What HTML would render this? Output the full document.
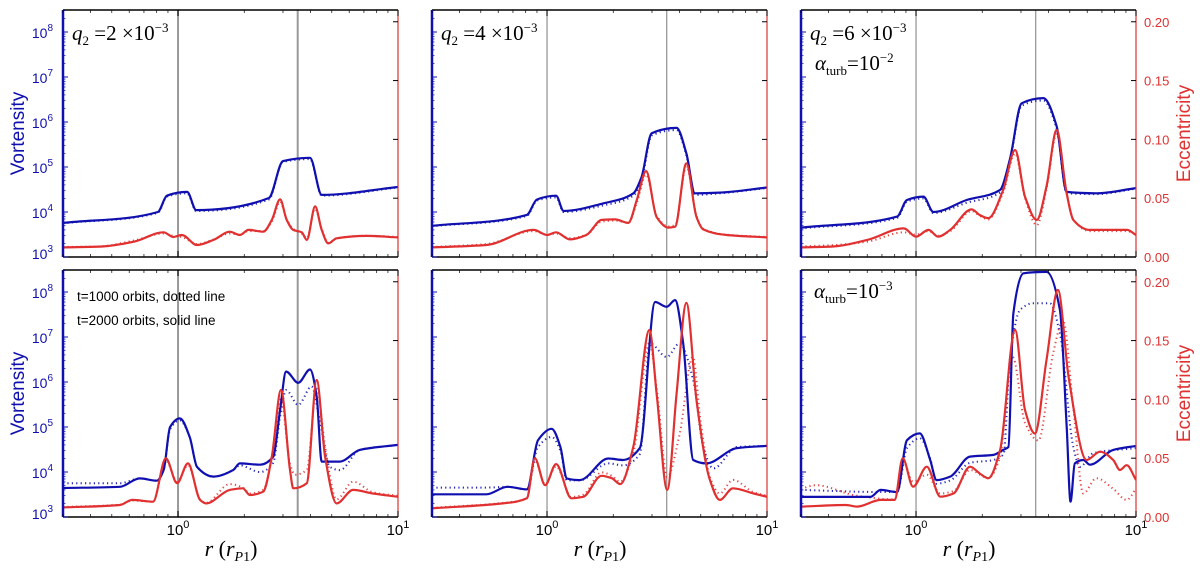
<!DOCTYPE html>
<html><head><meta charset="utf-8"><style>
body{margin:0;background:#fff;}
svg{display:block;font-family:"Liberation Sans",sans-serif;}
.ser{font-family:"Liberation Serif",serif;}
</style></head><body>
<svg id="fig" width="1200" height="577" viewBox="0 0 1200 577" xmlns="http://www.w3.org/2000/svg">
<rect width="1200" height="577" fill="#fff"/>
</svg>
<script>
// ---- data: [r, value] pairs ----
// Panel A (q2=2e-3, top)
const aVortSolid=[[0.3,5.7e3],[0.81,1e4],[0.89,2.3e4],[1.1,2.8e4],[1.21,1.1e4],[2.59,2.05e4],[3.0,1.35e5],[3.98,1.6e5],[4.5,2.4e4],[10,3.6e4]];
const aVortDot=[[0.3,5.6e3],[0.81,9.6e3],[0.89,2.2e4],[1.1,2.6e4],[1.21,1.05e4],[2.59,1.9e4],[3.0,1.3e5],[3.98,1.5e5],[4.5,2.3e4],[10,3.5e4]];
const aEccSolid=[[0.3,0.0082],[0.44,0.0088],[0.63,0.013],[0.86,0.021],[0.95,0.017],[1.04,0.0187],[1.22,0.0102],[1.45,0.0145],[1.72,0.0215],[1.91,0.0187],[2.09,0.023],[2.44,0.0215],[2.67,0.0315],[2.91,0.049],[3.12,0.0315],[3.34,0.023],[3.65,0.021],[3.85,0.0145],[4.2,0.043],[4.5,0.023],[4.82,0.0116],[5.26,0.0159],[7.2,0.0179],[10,0.0167]];
const aEccDot=[[0.3,0.0085],[0.44,0.009],[0.63,0.014],[0.86,0.02],[0.95,0.018],[1.04,0.017],[1.22,0.011],[1.45,0.015],[1.72,0.02],[1.91,0.019],[2.09,0.022],[2.44,0.022],[2.67,0.03],[2.91,0.047],[3.12,0.032],[3.34,0.024],[3.65,0.02],[3.85,0.016],[4.2,0.041],[4.5,0.024],[4.82,0.012],[5.26,0.016],[7.2,0.018],[10,0.017]];
// Panel B (q2=2e-3, bottom)
const bVortSolid=[[0.3,4.4e3],[0.545,4.7e3],[0.67,7.2e3],[0.8,6.4e3],[0.86,1.1e4],[0.92,1e5],[1.02,1.55e5],[1.13,6e4],[1.22,1.3e4],[1.45,7.9e3],[1.78,1.1e4],[1.91,1.55e4],[2.36,1.45e4],[2.71,2.2e4],[2.91,2.4e5],[3.1,1.7e6],[3.52,9.6e5],[3.98,1.9e6],[4.27,4.7e5],[4.5,1.7e4],[5.44,1.7e4],[6.7,3.1e4],[10,4e4]];
const bVortDot=[[0.3,5.6e3],[0.545,5.6e3],[0.67,7.2e3],[0.8,6.4e3],[0.86,1.1e4],[0.92,9e4],[1.02,1.4e5],[1.13,6e4],[1.22,1.3e4],[1.45,7.9e3],[1.78,1.1e4],[1.91,1.4e4],[2.36,1e4],[2.71,1.6e4],[2.91,1.7e5],[3.1,6.6e5],[3.52,3.1e5],[4.05,8e5],[4.4,1.45e5],[4.9,1.3e4],[5.44,1.1e4],[6.7,3.1e4],[10,4e4]];
const bEccSolid=[[0.3,0.0082],[0.545,0.0102],[0.62,0.0145],[0.77,0.013],[0.88,0.05],[0.99,0.0287],[1.11,0.0456],[1.26,0.0145],[1.34,0.0116],[1.72,0.023],[1.97,0.0244],[2.12,0.0187],[2.44,0.0215],[2.67,0.0513],[2.94,0.108],[3.23,0.04],[3.34,0.0244],[3.85,0.0287],[4.27,0.1165],[4.66,0.0513],[5.26,0.0116],[6.25,0.023],[7.7,0.02],[10,0.0172]];
const bEccDot=[[0.3,0.0085],[0.545,0.0105],[0.62,0.014],[0.77,0.013],[0.88,0.048],[0.99,0.03],[1.11,0.044],[1.26,0.015],[1.34,0.012],[1.72,0.028],[1.97,0.025],[2.12,0.02],[2.44,0.023],[2.67,0.05],[2.94,0.1],[3.23,0.045],[3.4,0.036],[3.85,0.04],[4.27,0.11],[4.66,0.06],[5.26,0.015],[6.25,0.03],[7.7,0.021],[10,0.018]];
// Panel C (q2=4e-3, top)
const cVortSolid=[[0.3,4.9e3],[0.81,8.6e3],[0.9,1.9e4],[1.1,2.3e4],[1.19,1.05e4],[1.8,1.55e4],[2.47,2.6e4],[2.69,6e4],[2.99,5.6e5],[3.88,7.4e5],[4.3,2e5],[4.7,2.6e4],[6.1,2.7e4],[10,3.5e4]];
const cVortDot=[[0.3,4.8e3],[0.81,8.2e3],[0.9,1.8e4],[1.1,2.1e4],[1.19,1e4],[1.8,1.4e4],[2.47,2.3e4],[2.69,5e4],[2.99,5e5],[3.88,6.6e5],[4.3,1.8e5],[4.7,2.4e4],[6.1,2.6e4],[10,3.4e4]];
const cEccSolid=[[0.3,0.0082],[0.53,0.0102],[0.87,0.023],[1.0,0.0187],[1.1,0.021],[1.27,0.015],[1.51,0.0187],[1.77,0.0315],[2.04,0.032],[2.34,0.029],[2.56,0.0485],[2.82,0.073],[3.15,0.034],[3.56,0.025],[3.82,0.0258],[4.3,0.0796],[4.78,0.034],[5.13,0.0235],[6.55,0.0187],[10,0.0167]];
const cEccDot=[[0.3,0.0085],[0.53,0.011],[0.87,0.022],[1.0,0.019],[1.1,0.02],[1.27,0.016],[1.51,0.019],[1.77,0.03],[2.04,0.031],[2.34,0.029],[2.56,0.046],[2.82,0.07],[3.15,0.035],[3.56,0.026],[3.82,0.027],[4.3,0.077],[4.78,0.035],[5.13,0.024],[6.55,0.019],[10,0.017]];
// Panel D (q2=4e-3, bottom)
const dVortSolid=[[0.3,3.2e3],[0.53,3.2e3],[0.66,4.7e3],[0.81,4.1e3],[0.91,5.1e4],[1.05,9.1e4],[1.15,3.6e4],[1.23,7.2e3],[1.41,6.6e3],[1.9,2e4],[2.22,1.85e4],[2.64,3.4e4],[3.1,6e7],[3.5,4.7e7],[3.82,6.6e7],[4.16,7.2e6],[4.62,1.85e4],[5.3,1.55e4],[7.3,3.4e4],[10,3.8e4]];
const dVortDot=[[0.3,4.5e3],[0.53,4.5e3],[0.66,4.7e3],[0.81,4.1e3],[0.91,3.6e4],[1.05,6e4],[1.15,3e4],[1.23,6.5e3],[1.41,6.5e3],[1.9,1.55e4],[2.22,1.4e4],[2.64,2.5e4],[2.94,7.2e6],[3.5,3.6e6],[4.0,7.2e6],[4.62,1.1e6],[5.13,3.6e4],[5.7,1.2e4],[7.3,3.6e4],[10,3.8e4]];
const dEccSolid=[[0.3,0.0074],[0.63,0.0116],[0.81,0.0159],[0.88,0.05],[0.98,0.027],[1.1,0.045],[1.29,0.0159],[1.46,0.0172],[1.77,0.035],[1.97,0.033],[2.15,0.028],[2.47,0.06],[2.92,0.159],[3.15,0.105],[3.52,0.023],[3.88,0.105],[4.3,0.182],[4.78,0.0995],[5.5,0.0315],[6.1,0.0145],[7.0,0.0244],[8.7,0.02],[10,0.0172]];
const dEccDot=[[0.3,0.0078],[0.63,0.012],[0.81,0.016],[0.88,0.048],[0.98,0.028],[1.1,0.043],[1.29,0.017],[1.46,0.019],[1.77,0.038],[1.97,0.035],[2.15,0.03],[2.47,0.055],[2.92,0.148],[3.15,0.11],[3.52,0.034],[4.0,0.07],[4.6,0.136],[5.0,0.08],[5.5,0.034],[6.1,0.02],[7.0,0.0315],[8.7,0.021],[10,0.018]];
// Panel E (q2=6e-3, alpha=1e-2, top)
const eVortSolid=[[0.3,4.5e3],[0.82,7.9e3],[0.91,1.85e4],[1.08,2.2e4],[1.2,1e4],[1.7,1.85e4],[2.41,3.1e4],[2.67,1.45e5],[3.02,2.6e6],[3.79,3.4e6],[4.36,8e5],[4.84,2.8e4],[6.62,2.6e4],[10,3.4e4]];
const eVortDot=[[0.3,4.3e3],[0.82,7.4e3],[0.91,1.7e4],[1.08,2e4],[1.2,9.5e3],[1.7,1.6e4],[2.41,2.7e4],[2.67,1.3e5],[3.02,2.3e6],[3.79,3e6],[4.36,7e5],[4.84,2.6e4],[6.62,2.5e4],[10,3.3e4]];
const eEccSolid=[[0.3,0.0082],[0.41,0.0088],[0.6,0.0145],[0.88,0.0243],[1.0,0.0173],[1.14,0.023],[1.26,0.0173],[1.43,0.023],[1.79,0.0405],[1.95,0.0357],[2.13,0.033],[2.49,0.057],[2.82,0.091],[3.13,0.0513],[3.54,0.0315],[3.92,0.06],[4.36,0.108],[4.84,0.054],[5.19,0.0315],[6.17,0.023],[9.1,0.023],[10,0.0187]];
const eEccDot=[[0.3,0.009],[0.41,0.01],[0.6,0.013],[0.88,0.021],[1.0,0.019],[1.14,0.022],[1.26,0.018],[1.43,0.022],[1.79,0.039],[1.95,0.035],[2.13,0.032],[2.49,0.055],[2.82,0.088],[3.13,0.05],[3.54,0.027],[3.92,0.058],[4.36,0.105],[4.84,0.055],[5.19,0.032],[6.17,0.022],[9.1,0.022],[10,0.019]];
// Panel F (alpha=1e-3, bottom)
const fVortSolid=[[0.3,2.8e3],[0.62,2.8e3],[0.69,4e3],[0.82,3.6e3],[0.91,5.1e4],[1.04,7.2e4],[1.16,1.85e4],[1.24,6.6e3],[1.43,7.9e3],[1.76,2.2e4],[2.25,2.4e4],[2.49,3.1e4],[2.63,3.6e4],[2.77,3.4e7],[3.08,2.6e8],[3.92,2.8e8],[4.51,4e7],[4.84,1e5],[5.04,2.2e3],[5.27,1.55e4],[5.76,1.85e4],[6.17,1.45e4],[7.88,3.1e4],[10,3.8e4]];
const fVortDot=[[0.3,4e3],[0.69,3.6e3],[0.82,3.6e3],[0.91,3.4e4],[1.04,5.6e4],[1.16,2e4],[1.24,5.5e3],[1.43,6.5e3],[1.76,1.6e4],[2.25,1.85e4],[2.5,2.5e4],[2.67,3.1e6],[2.97,4e7],[3.41,5.6e7],[4.06,5.6e7],[4.51,1.2e7],[5.19,3.6e4],[5.56,1.3e4],[6.38,2.6e4],[10,3.4e4]];
const fEccSolid=[[0.3,0.0088],[0.48,0.0102],[0.54,0.0088],[0.69,0.0145],[0.8,0.0145],[0.87,0.05],[0.97,0.0258],[1.12,0.0428],[1.29,0.0173],[1.48,0.02],[1.76,0.0428],[1.95,0.037],[2.13,0.033],[2.41,0.057],[2.82,0.159],[3.13,0.091],[3.47,0.071],[3.92,0.1335],[4.42,0.193],[4.94,0.119],[5.96,0.0485],[6.87,0.0555],[7.88,0.0485],[8.45,0.04],[9.07,0.044],[10,0.0315]];
const fEccDot=[[0.3,0.024],[0.35,0.027],[0.54,0.018],[0.8,0.015],[0.87,0.048],[0.97,0.03],[1.12,0.036],[1.29,0.02],[1.48,0.022],[1.76,0.04],[2.13,0.033],[2.4,0.05],[2.75,0.136],[3.13,0.08],[3.6,0.065],[4.2,0.139],[4.66,0.167],[5.2,0.091],[5.76,0.02],[6.6,0.033],[7.88,0.024],[9.07,0.0145],[10,0.024]];
const planetRadii=[1.0,3.5];
const vortTicks=[3,4,5,6,7,8];
const eccTicks=["0.00","0.05","0.10","0.15","0.20"];

const NS="http://www.w3.org/2000/svg";
const svg=document.getElementById('fig');
const W=335,H=247,X0=[63,432,801],Y0=[10,270];
const RMIN=0.3,RMAX=10,VLOGMIN=3,VLOGMAX=3+247/45,EMAX=0.21;
const BLUE="#1010b0",RED="#e03030";
function mk(tag,attrs,parent){const e=document.createElementNS(NS,tag);for(const k in attrs)e.setAttribute(k,attrs[k]);(parent||svg).appendChild(e);return e;}
function xs(c,r){return X0[c]+W*(Math.log10(r)-Math.log10(RMIN))/(Math.log10(RMAX)-Math.log10(RMIN));}
function yv(row,v){return Y0[row]+H-H*(Math.log10(v)-VLOGMIN)/(VLOGMAX-VLOGMIN);}
function ye(row,e){return Y0[row]+H-H*e/EMAX;}
// monotone cubic (Fritsch-Carlson) – no overshoot
function smooth(pts){const n=pts.length;const dx=[],s=[];
 for(let i=0;i<n-1;i++){dx.push(pts[i+1][0]-pts[i][0]);s.push((pts[i+1][1]-pts[i][1])/dx[i]);}
 const m=[s[0]];for(let i=1;i<n-1;i++){m.push(s[i-1]*s[i]<=0?0:(3*(dx[i-1]+dx[i]))/((2*dx[i]+dx[i-1])/s[i-1]+(dx[i]+2*dx[i-1])/s[i]));}
 m.push(s[n-2]);
 let d=`M${pts[0][0].toFixed(1)},${pts[0][1].toFixed(1)}`;
 for(let i=0;i<n-1;i++){const h=dx[i]/3;
  d+=`C${(pts[i][0]+h).toFixed(1)},${(pts[i][1]+m[i]*h).toFixed(1)} ${(pts[i+1][0]-h).toFixed(1)},${(pts[i+1][1]-m[i+1]*h).toFixed(1)} ${pts[i+1][0].toFixed(1)},${pts[i+1][1].toFixed(1)}`;}
 return d;}
const panels=[
 {c:0,row:0,vs:aVortSolid,vd:aVortDot,es:aEccSolid,ed:aEccDot,id:'q2-2e-3-t'},
 {c:0,row:1,vs:bVortSolid,vd:bVortDot,es:bEccSolid,ed:bEccDot,id:'q2-2e-3-b'},
 {c:1,row:0,vs:cVortSolid,vd:cVortDot,es:cEccSolid,ed:cEccDot,id:'q2-4e-3-t'},
 {c:1,row:1,vs:dVortSolid,vd:dVortDot,es:dEccSolid,ed:dEccDot,id:'q2-4e-3-b'},
 {c:2,row:0,vs:eVortSolid,vd:eVortDot,es:eEccSolid,ed:eEccDot,id:'q2-6e-3-t'},
 {c:2,row:1,vs:fVortSolid,vd:fVortDot,es:fEccSolid,ed:fEccDot,id:'alpha-1e-3-b'}];
const defs=mk('defs',{});
panels.forEach((p,i)=>{
 const x0=X0[p.c],y0=Y0[p.row];
 const cp=mk('clipPath',{id:'cp'+i},defs);mk('rect',{x:x0,y:y0,width:W,height:H},cp);
 const g=mk('g',{'clip-path':`url(#cp${i})`});
 
 
 planetRadii.forEach(r=>{const l=mk('line',{x1:xs(p.c,r),x2:xs(p.c,r),y1:y0,y2:y0+H,stroke:'#999','stroke-width':p.c===0?2:1.3},g);
  
  });
 const series=[[p.vd,'v',BLUE,true],[p.ed,'e',RED,true],[p.vs,'v',BLUE,false],[p.es,'e',RED,false]];
 series.forEach(([data,kind,col,dot])=>{
  const pts=data.map(d=>[xs(p.c,d[0]),kind==='v'?yv(p.row,d[1]):ye(p.row,d[1])]);
  const a={d:smooth(pts),fill:'none',stroke:col,'stroke-width':dot?2:2.2,'stroke-linejoin':'round'};
  if(dot){a['stroke-dasharray']='1.2 3.2';a.opacity=0.9;}
  const path=mk('path',a,g);
  
  
 });
 mk('line',{x1:x0,x2:x0+W,y1:y0,y2:y0,stroke:'#000','stroke-width':1.5});
 mk('line',{x1:x0,x2:x0+W,y1:y0+H,y2:y0+H,stroke:'#000','stroke-width':1.5});
 mk('line',{x1:x0,x2:x0,y1:y0,y2:y0+H,stroke:BLUE,'stroke-width':2.5});
 mk('line',{x1:x0+W,x2:x0+W,y1:y0,y2:y0+H,stroke:RED,'stroke-width':1.2});
 vortTicks.forEach(t=>{const y=yv(p.row,Math.pow(10,t));mk('line',{x1:x0,x2:x0+5,y1:y,y2:y,stroke:BLUE,'stroke-width':1});
  for(let k=2;k<10;k++){const ym=yv(p.row,k*Math.pow(10,t));if(ym>y0)mk('line',{x1:x0,x2:x0+2.5,y1:ym,y2:ym,stroke:BLUE,'stroke-width':0.7});}});
 eccTicks.forEach(t=>{const y=ye(p.row,+t);mk('line',{x1:x0+W-5,x2:x0+W,y1:y,y2:y,stroke:'#000','stroke-width':1});});
 [1,10].forEach(r=>{const x=xs(p.c,r);mk('line',{x1:x,x2:x,y1:y0+H,y2:y0+H-6,stroke:'#000'});mk('line',{x1:x,x2:x,y1:y0,y2:y0+6,stroke:'#000'});});
 [0.3,0.4,0.5,0.6,0.7,0.8,0.9,2,3,4,5,6,7,8,9].forEach(r=>{const x=xs(p.c,r);mk('line',{x1:x,x2:x,y1:y0+H,y2:y0+H-3,stroke:'#000','stroke-width':0.7});mk('line',{x1:x,x2:x,y1:y0,y2:y0+3,stroke:'#000','stroke-width':0.7});});
 if(p.row===1){[[1,'0'],[10,'1']].forEach(([r,s])=>{const t=mk('text',{x:xs(p.c,r),y:535,'font-size':15,'text-anchor':'middle',fill:'#000'});t.innerHTML=`10<tspan dy="-7" font-size="11">${s}</tspan>`;
  
  });
  const xl=mk('text',{x:x0+168,y:556,'font-size':22,'text-anchor':'middle',class:'ser',fill:'#000'});
  xl.innerHTML=`<tspan font-style="italic">r</tspan> (<tspan font-style="italic">r</tspan><tspan font-style="italic" font-size="14" dy="5">P</tspan><tspan font-size="14">1</tspan><tspan dy="-5">)</tspan>`;
  
  }
 if(p.c===0){vortTicks.forEach(t=>{const y=yv(p.row,Math.pow(10,t));const tx=mk('text',{x:53,y:y+(t===3?2:6),'font-size':14,'text-anchor':'end',fill:BLUE});tx.innerHTML=`10<tspan dy="-7" font-size="10">${t}</tspan>`;
  
  });
  const yl=mk('text',{x:0,y:0,'font-size':19,'text-anchor':'middle',fill:BLUE,transform:`translate(24,${y0+H/2}) rotate(-90)`});yl.textContent='Vortensity';
  
  }
 if(p.c===2){eccTicks.forEach(t=>{const y=ye(p.row,+t);const tx=mk('text',{x:x0+W+8,y:y+5,'font-size':13,fill:RED});tx.textContent=t;
  
  });
  const el=mk('text',{x:0,y:0,'font-size':19,'text-anchor':'middle',fill:RED,transform:`translate(1190,${y0+H/2}) rotate(-90)`});el.textContent='Eccentricity';
  
  }
});
function label(x,y,html,name){const t=mk('text',{x:x,y:y,'font-size':21,class:'ser',fill:'#000'});t.innerHTML=html;
 
 }
const q=(n)=>`<tspan font-style="italic">q</tspan><tspan font-size="13" dy="5">2</tspan><tspan dy="-5"> =${n} ×10</tspan><tspan font-size="13" dy="-8">−3</tspan>`;
label(72,40,q(2),'panel-label-q2-2e-3');
label(441,40,q(4),'panel-label-q2-4e-3');
label(810,40,q(6),'panel-label-q2-6e-3');
label(815,70,`<tspan font-style="italic">α</tspan><tspan font-size="13" dy="5">turb</tspan><tspan dy="-5">=10</tspan><tspan font-size="13" dy="-8">−2</tspan>`,'panel-label-alpha-1e-2');
label(814,298,`<tspan font-style="italic">α</tspan><tspan font-size="13" dy="5">turb</tspan><tspan dy="-5">=10</tspan><tspan font-size="13" dy="-8">−3</tspan>`,'panel-label-alpha-1e-3');
const l1=mk('text',{x:77,y:301,'font-size':13.5,fill:'#000'});l1.textContent='t=1000 orbits,  dotted line';


const l2=mk('text',{x:77,y:325,'font-size':13.5,fill:'#000'});l2.textContent='t=2000 orbits,  solid line';


</script>
</body></html>
